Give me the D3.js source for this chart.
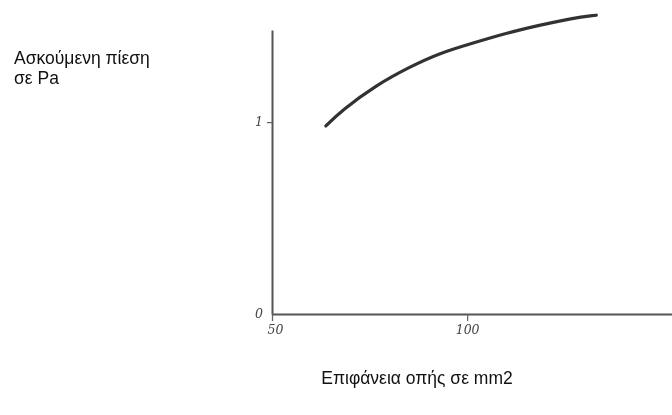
<!DOCTYPE html>
<html>
<head>
<meta charset="utf-8">
<script src="https://cdn.jsdelivr.net/npm/d3@7"></script>
<style>
  html, body { margin: 0; padding: 0; background: #fff; }
  svg { display: block; }
  .caption { font-family: "Liberation Sans", Arial, sans-serif; font-size: 17.5px; fill: #111; }
  .tick text { font-family: "DejaVu Serif", serif; font-style: italic; font-size: 12.5px; fill: #444; }
</style>
</head>
<body>
<svg id="chart" width="672" height="415"></svg>
<script>
// Pressure exerted versus orifice area
const areaValues = [63.8, 67.9, 76.7, 85.1, 92.8, 101.3, 110.0, 118.5, 126.9, 133.1];
const pressureValues = [0.98, 1.062, 1.193, 1.286, 1.359, 1.411, 1.464, 1.505, 1.542, 1.557];
const xTickValues = [50, 100];
const yTickValues = [0, 1];
const yTitleLines = ["Ασκούμενη πίεση", "σε Pa"];
const xTitle = "Επιφάνεια οπής σε mm2";

const svg = d3.select("#chart");

const x = d3.scaleLinear().domain([50, 152.5]).range([272, 672]);
const y = d3.scaleLinear().domain([0, 1.48]).range([314, 30]);

// Soft pencil look for the hand-drawn parts
const defs = svg.append("defs");
defs.append("filter").attr("id", "soft")
  .append("feGaussianBlur").attr("stdDeviation", 0.7);

const plot = svg.append("g").attr("filter", "url(#soft)");

// Y axis
const yAxis = plot.append("g")
  .attr("transform", `translate(${x(50)},0)`)
  .call(d3.axisLeft(y).tickValues(yTickValues).tickSize(5).tickSizeOuter(0).tickFormat(d3.format("d")));
yAxis.select(".domain").attr("stroke", "#555").attr("stroke-width", 2);
yAxis.selectAll(".tick line").attr("stroke", "#666").attr("stroke-width", 1.3);
yAxis.selectAll(".tick text").attr("x", -9).attr("dy", "0.3em");
yAxis.selectAll(".tick").filter(d => d === 0).select("line").remove();

// X axis
const xAxis = plot.append("g")
  .attr("transform", `translate(0,${y(0)})`)
  .call(d3.axisBottom(x).tickValues(xTickValues).tickSize(7).tickSizeOuter(0).tickFormat(d3.format("d")));
xAxis.select(".domain").attr("stroke", "#555").attr("stroke-width", 2);
xAxis.selectAll(".tick line").attr("stroke", "#666").attr("stroke-width", 1.3);
xAxis.selectAll(".tick text").attr("y", 15).attr("dy", "0.4em");
xAxis.selectAll(".tick").filter(d => d === 50).select("text").attr("x", 3);

// Curve
const pts = areaValues.map((a, i) => [a, pressureValues[i]]);
plot.append("path")
  .datum(pts)
  .attr("fill", "none")
  .attr("stroke", "#333")
  .attr("stroke-width", 3.2)
  .attr("stroke-linecap", "round")
  .attr("d", d3.line().x(d => x(d[0])).y(d => y(d[1])).curve(d3.curveBasis));

// Titles
const yTitle = svg.append("text").attr("class", "caption").attr("x", 14).attr("y", 64);
yTitleLines.forEach((t, i) => {
  yTitle.append("tspan").attr("x", 14).attr("dy", i === 0 ? 0 : 20).text(t);
});

svg.append("text").attr("class", "caption")
  .attr("x", 417).attr("y", 384)
  .attr("text-anchor", "middle")
  .text(xTitle);
</script>
</body>
</html>
